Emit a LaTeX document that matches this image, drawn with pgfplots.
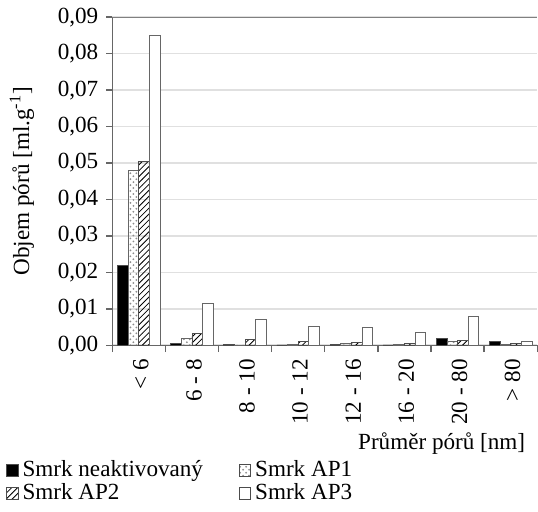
\documentclass[border=0pt]{standalone}
\usepackage{pgfplots}
\pgfplotsset{compat=1.18}
\usepackage{fontspec}
\setmainfont{Liberation Serif}
\usetikzlibrary{patterns}

\begin{document}
\fontsize{11.7}{14}\selectfont
\begin{tikzpicture}
\begin{axis}[
    scale only axis,
    width=215pt, height=166pt,
    ybar=0pt, bar width=0.2,
    xmin=-0.5, xmax=7.5,
    ymin=0, ymax=0.09,
    axis x line*=bottom, axis y line*=left,
    axis line style={black!60, line width=0.7pt},
    xtick={0,...,7},
    xticklabels={< 6, 6 - 8, 8 - 10, 10 - 12, 12 - 16, 16 - 20, 20 - 80, > 80},
    x tick label style={rotate=90, anchor=east, yshift=-1pt},
    major x tick style={draw=none},
    minor xtick={-0.5,0.5,...,7.5},
    minor x tick style={black!60, line width=0.7pt},
    minor tick length=3.5pt,
    ytick distance=0.01,
    y tick style={black!60, line width=0.7pt},
    major tick length=3pt,
    tick align=outside,
    yticklabel style={/pgf/number format/.cd, fixed, fixed zerofill, precision=2, use comma, assume math mode=true},
    scaled y ticks=false,
    ymajorgrids, grid style={black!12, line width=0.8pt},
    ylabel={Objem pórů [ml.g\textsuperscript{-1}]},
    ylabel shift=4pt,
    xlabel={Průměr pórů [nm]},
    xlabel style={at={(rel axis cs:1,0)}, anchor=north east, yshift=-40pt, xshift=-2pt},
    legend columns=2,
    legend style={at={(rel axis cs:0,0)}, anchor=north west, xshift=-57pt, yshift=-54pt,
        draw=none, fill=none, font=\fontsize{11.7}{12}\selectfont,
        /tikz/every even column/.append style={column sep=16pt}, row sep=-2pt},
    legend cell align=left,
    legend image code/.code={\draw[#1, draw=black!70] (0pt,-3pt) rectangle (6pt,3pt);},
]
\addplot[fill=black, draw=black!70] coordinates {
    (0,0.022)(1,0.0005)(2,0.0002)(3,0.0001)(4,0.0002)(5,0.0001)(6,0.0018)(7,0.0010)};
\addplot[pattern=crosshatch dots, pattern color=black!45, draw=black!60] coordinates {
    (0,0.0480)(1,0.0020)(2,0.0001)(3,0.0003)(4,0.0005)(5,0.0003)(6,0.0010)(7,0.0002)};
\addplot[pattern=north east lines, draw=black!70] coordinates {
    (0,0.0505)(1,0.0033)(2,0.0017)(3,0.0010)(4,0.0008)(5,0.0004)(6,0.0013)(7,0.0004)};
\addplot[fill=white, draw=black!60] coordinates {
    (0,0.0850)(1,0.0115)(2,0.0070)(3,0.0053)(4,0.0050)(5,0.0034)(6,0.0080)(7,0.0010)};
\legend{Smrk neaktivovaný, Smrk AP1, Smrk AP2, Smrk AP3}
\draw[black!50, line width=0.8pt] (rel axis cs:0,1) -- (rel axis cs:1,1);
\end{axis}
\end{tikzpicture}
\end{document}
